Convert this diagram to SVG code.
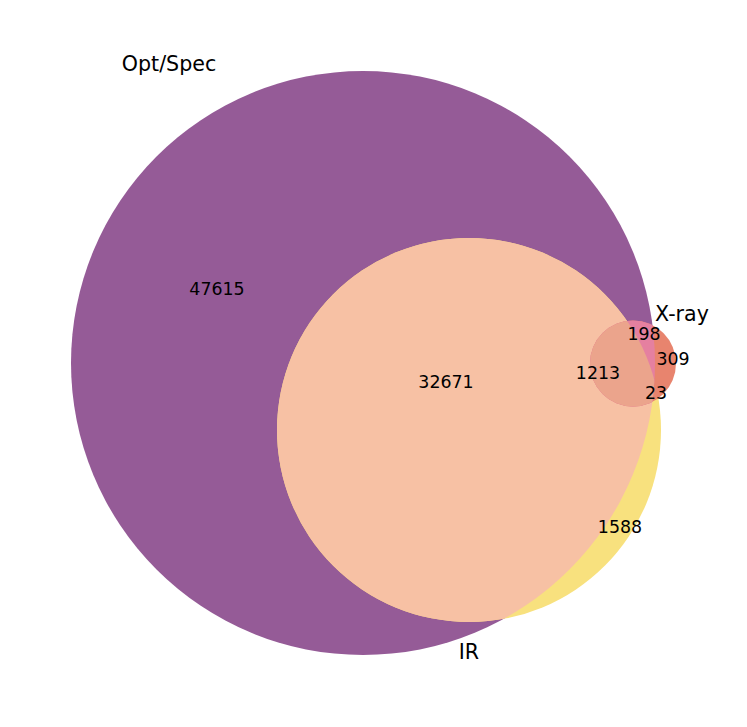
<svg xmlns="http://www.w3.org/2000/svg" width="747" height="727" viewBox="0 0 747 727">
<style>
text{font-family:"DejaVu Sans","Liberation Sans",sans-serif;fill:#000;text-anchor:middle;dominant-baseline:central}
.n{font-size:17.4px}
.l{font-size:20.6px}
</style>
<defs>
<clipPath id="cOpt"><circle cx="363" cy="363" r="292"/></clipPath>
<clipPath id="cIR"><circle cx="469" cy="430" r="192"/></clipPath>
<clipPath id="cX"><circle cx="633" cy="363.5" r="43"/></clipPath>
</defs>
<rect width="747" height="727" fill="#fff"/>
<g id="regions">
<circle cx="363" cy="363" r="292" fill="#955B97"/>
<circle cx="469" cy="430" r="192" fill="#F8E17E"/>
<circle cx="469" cy="430" r="192" fill="#F7C1A4" clip-path="url(#cOpt)"/>
<circle cx="633" cy="363.5" r="43" fill="#E8846E"/>
<circle cx="633" cy="363.5" r="43" fill="#E580A0" clip-path="url(#cOpt)"/>
<g clip-path="url(#cIR)"><circle cx="633" cy="363.5" r="43" fill="#EBA48C" clip-path="url(#cOpt)"/></g>
</g>
<g id="labels">
<text class="l" x="169" y="64">Opt/Spec</text>
<text class="l" x="682" y="314">X-ray</text>
<text class="l" x="469" y="652">IR</text>
<text class="n" x="217" y="289">47615</text>
<text class="n" x="446" y="382">32671</text>
<text class="n" x="598" y="373">1213</text>
<text class="n" x="644" y="334">198</text>
<text class="n" x="673" y="359">309</text>
<text class="n" x="656" y="393">23</text>
<text class="n" x="620" y="527">1588</text>
</g>
</svg>
